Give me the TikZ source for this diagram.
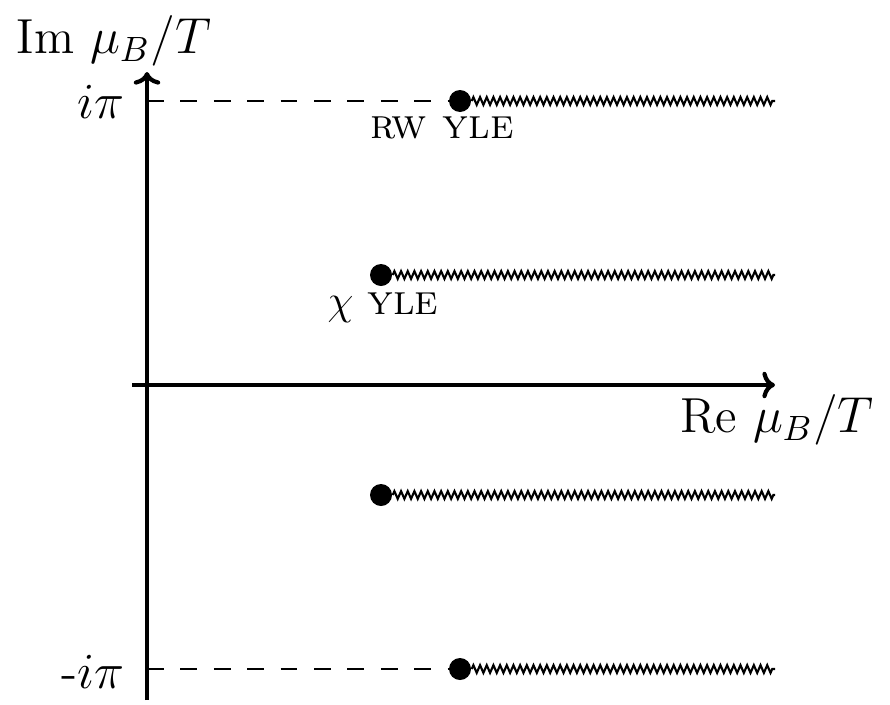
\documentclass[tikz,border=0pt]{standalone}
\usetikzlibrary{decorations.pathmorphing, arrows.meta}
\begin{document}
\begin{tikzpicture}[
    font=\fontsize{14}{16}\selectfont,
    axis/.style={-{To[length=3.6pt, width=7.5pt]}, very thick},
    guide/.style={semithick, dash pattern=on 0.167cm off 0.167cm},
    cut/.style={semithick, decorate, decoration={zigzag, segment length=1.9pt, amplitude=1.1pt}},
    branch/.style={circle, fill, inner sep=0pt, minimum size=0.22cm},
    edgelabel/.style={font=\fontsize{12}{14}\selectfont},
]
    \useasboundingbox (-1.47,-3.19) rectangle (7.43,3.85);

    % Axes
    \coordinate (xstart) at (-0.15, 0);
    \coordinate (xend) at (6.28, 0);
    \coordinate (ystart) at (0, -3.15);
    \coordinate (yend) at (0, 3.13);
    \draw[axis] (xstart) -- (xend);
    \draw[axis] (ystart) -- (yend);
    \node (relabel) at (6.30, -0.35) {Re $\mu_B/T$};
    \node (imlabel) at (-0.33, 3.44) {Im $\mu_B/T$};

    % Roberge-Weiss edge at +/- i pi
    \coordinate (pitop) at (0, 2.84);
    \coordinate (pibot) at (0, -2.84);
    \node[left] (pitoplabel) at (-0.10, 2.83) {$i\pi$};
    \node[left] (pibotlabel) at (-0.10, -2.87) {-$i\pi$};
    \node[branch] (rwtop) at (3.13, 2.84) {};
    \node[branch] (rwbot) at (3.13, -2.84) {};
    \coordinate (cuttop) at (6.28, 2.84);
    \coordinate (cutbot) at (6.28, -2.84);
    \draw[guide] (pitop) -- (rwtop);
    \draw[guide] (pibot) -- (rwbot);
    \draw[cut] (rwtop.east) -- (cuttop);
    \draw[cut] (rwbot.east) -- (cutbot);
    \node[edgelabel] (rwlabel) at (2.95, 2.57) {\textsc{rw yle}};

    % Chiral edge
    \node[branch] (chitop) at (2.34, 1.1) {};
    \node[branch] (chibot) at (2.34, -1.1) {};
    \coordinate (cutmidtop) at (6.28, 1.1);
    \coordinate (cutmidbot) at (6.28, -1.1);
    \draw[cut] (chitop.east) -- (cutmidtop);
    \draw[cut] (chibot.east) -- (cutmidbot);
    \node[edgelabel] (chilabel) at (2.36, 0.77) {$\chi$ \textsc{yle}};
\end{tikzpicture}
\end{document}
